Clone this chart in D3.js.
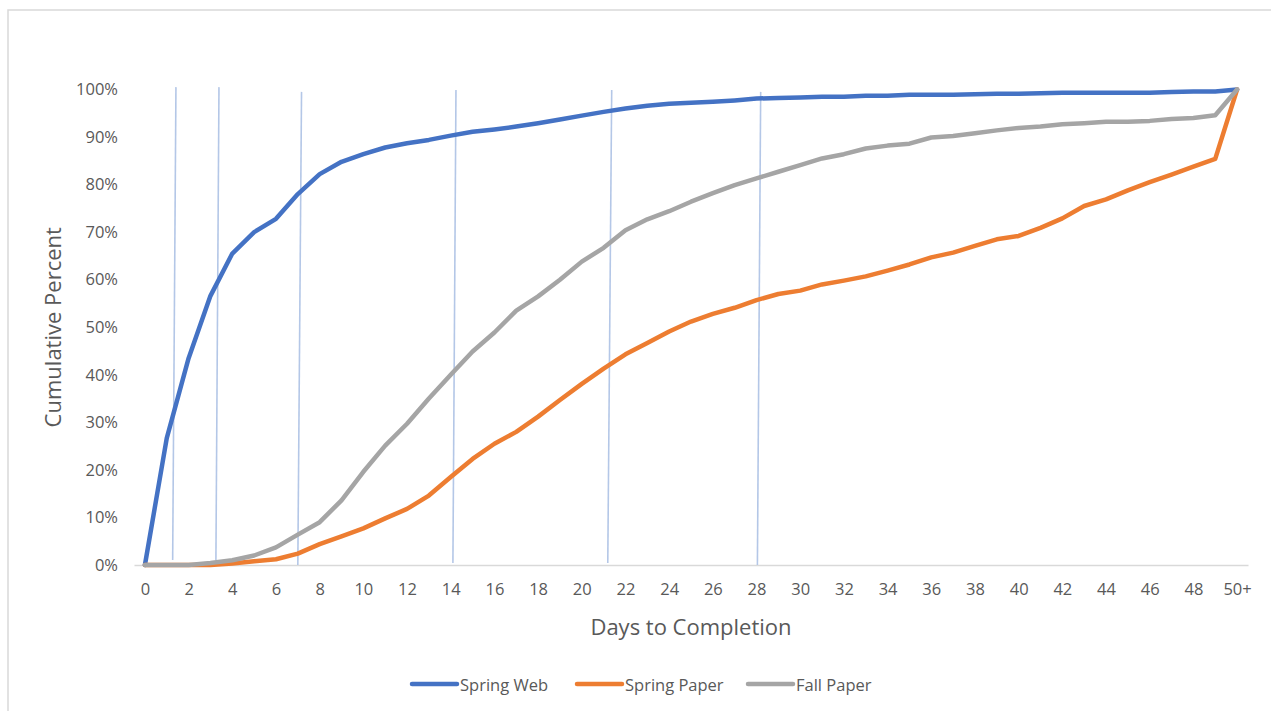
<!DOCTYPE html>
<html>
<head>
<meta charset="utf-8">
<script src="https://cdn.jsdelivr.net/npm/d3@7"></script>
<style>
  html, body { margin: 0; padding: 0; background: #fff; }
  svg { display: block; font-family: "Open Sans", "Noto Sans", sans-serif; }
</style>
</head>
<body>
<svg id="chart" width="1271" height="711"></svg>
<script>
// ---- data ----
const days = d3.range(0, 51);
const dayLabels = days.map(d => d === 50 ? "50+" : (d % 2 === 0 ? String(d) : ""));
const seriesNames = ["Spring Web", "Spring Paper", "Fall Paper"];
const seriesColors = ["#4472C4", "#ED7D31", "#A5A5A5"];

const springWeb = [0, 0.267, 0.435, 0.566, 0.655, 0.700, 0.728, 0.780, 0.822, 0.848,
  0.864, 0.878, 0.887, 0.894, 0.903, 0.911, 0.916, 0.922, 0.929, 0.937,
  0.945, 0.953, 0.960, 0.966, 0.970, 0.972, 0.974, 0.977, 0.981, 0.982,
  0.983, 0.985, 0.985, 0.987, 0.987, 0.989, 0.989, 0.989, 0.990, 0.991,
  0.991, 0.992, 0.993, 0.993, 0.993, 0.993, 0.993, 0.995, 0.996, 0.996, 1.0];
const springPaper = [0, 0, 0, 0, 0.003, 0.008, 0.012, 0.024, 0.044, 0.060,
  0.077, 0.098, 0.118, 0.146, 0.185, 0.223, 0.255, 0.280, 0.312, 0.347,
  0.381, 0.413, 0.443, 0.467, 0.491, 0.512, 0.528, 0.541, 0.557, 0.570,
  0.577, 0.590, 0.598, 0.607, 0.619, 0.632, 0.647, 0.657, 0.671, 0.685,
  0.692, 0.709, 0.729, 0.755, 0.769, 0.788, 0.805, 0.821, 0.838, 0.854, 1.0];
const fallPaper = [0, 0, 0, 0.004, 0.010, 0.020, 0.037, 0.064, 0.090, 0.136,
  0.196, 0.251, 0.297, 0.350, 0.400, 0.449, 0.489, 0.535, 0.565, 0.600,
  0.638, 0.667, 0.704, 0.727, 0.744, 0.764, 0.782, 0.799, 0.813, 0.827,
  0.841, 0.855, 0.864, 0.876, 0.882, 0.886, 0.899, 0.902, 0.908, 0.914,
  0.919, 0.922, 0.927, 0.929, 0.932, 0.932, 0.934, 0.938, 0.940, 0.946, 1.0];
const seriesValues = [springWeb, springPaper, fallPaper];

// hand-drawn vertical marker lines (in day / value units)
const markerTopDay    = [1.42, 3.39, 7.17, 14.24, 21.37, 28.19];
const markerTopVal    = [1.005, 1.005, 0.995, 0.999, 0.999, 0.995];
const markerBottomDay = [1.27, 3.25, 7.00, 14.10, 21.19, 28.04];
const markerBottomVal = [0.0105, 0.0105, 0.0, 0.004, 0.004, 0.0];

const yTicks = d3.range(0, 1.0001, 0.1);

// ---- layout ----
const svg = d3.select("#chart");
const plot = { left: 134, right: 1248, top: 89.5, bottom: 565 };
const textColor = "#595959";
const tickFont = "16.5px";
const titleFont = "22px";

// chart frame (top and left borders)
svg.append("path")
  .attr("d", "M8,711 L8,10 L1271,10")
  .attr("fill", "none").attr("stroke", "#d9d9d9").attr("stroke-width", 1.5);

const x = d3.scalePoint().domain(days).range([plot.left, plot.right]).padding(0.5);
const xLin = d3.scaleLinear().domain([0, 50]).range([x(0), x(50)]);
const y = d3.scaleLinear().domain([0, 1]).range([plot.bottom, plot.top]);

// y axis labels
const yAxis = d3.axisLeft(y).tickValues(yTicks).tickFormat(d3.format(".0%")).tickSize(0).tickPadding(0);
const gy = svg.append("g").attr("transform", "translate(118,0)").call(yAxis);
gy.select(".domain").remove();
gy.selectAll("text").attr("fill", textColor).style("font-size", tickFont)
  .style("font-family", "'Open Sans', 'Noto Sans', sans-serif");

// x axis
const xAxis = d3.axisBottom(x).tickFormat((d, i) => dayLabels[i]).tickSize(0).tickPadding(18);
const gx = svg.append("g").attr("transform", `translate(0,${plot.bottom})`).call(xAxis);
gx.select(".domain").attr("stroke", "#d9d9d9").attr("stroke-width", 1.5);
gx.selectAll("text").attr("fill", textColor).style("font-size", tickFont)
  .style("font-family", "'Open Sans', 'Noto Sans', sans-serif");

// marker lines
svg.append("g").selectAll("line")
  .data(markerTopDay.map((d, i) => i))
  .join("line")
  .attr("x1", i => xLin(markerTopDay[i])).attr("y1", i => y(markerTopVal[i]))
  .attr("x2", i => xLin(markerBottomDay[i])).attr("y2", i => y(markerBottomVal[i]))
  .attr("stroke", "#b4c7e7").attr("stroke-width", 1.6);

// series lines
const line = d3.line().x((v, i) => x(days[i])).y(v => y(v)).curve(d3.curveLinear);
svg.append("g").selectAll("path")
  .data(seriesValues.map((v, i) => i))
  .join("path")
  .attr("d", i => line(seriesValues[i]))
  .attr("fill", "none")
  .attr("stroke", i => seriesColors[i])
  .attr("stroke-width", 4.5)
  .attr("stroke-linejoin", "round")
  .attr("stroke-linecap", "round");

// axis titles
svg.append("text")
  .attr("transform", `translate(52,${(plot.top + plot.bottom) / 2}) rotate(-90)`)
  .attr("text-anchor", "middle").attr("dominant-baseline", "central")
  .attr("fill", textColor).style("font-size", titleFont)
  .text("Cumulative Percent");
svg.append("text")
  .attr("x", (plot.left + plot.right) / 2).attr("y", 626)
  .attr("text-anchor", "middle").attr("dominant-baseline", "central")
  .attr("fill", textColor).style("font-size", titleFont)
  .text("Days to Completion");

// legend
const legendX = [412, 577, 748];
const lg = svg.append("g");
seriesNames.forEach((name, i) => {
  lg.append("line")
    .attr("x1", legendX[i]).attr("x2", legendX[i] + 45)
    .attr("y1", 684).attr("y2", 684)
    .attr("stroke", seriesColors[i]).attr("stroke-width", 4.5).attr("stroke-linecap", "round");
  lg.append("text")
    .attr("x", legendX[i] + 48).attr("y", 684)
    .attr("dominant-baseline", "central")
    .attr("fill", textColor).style("font-size", tickFont)
    .text(name);
});
</script>
</body>
</html>
